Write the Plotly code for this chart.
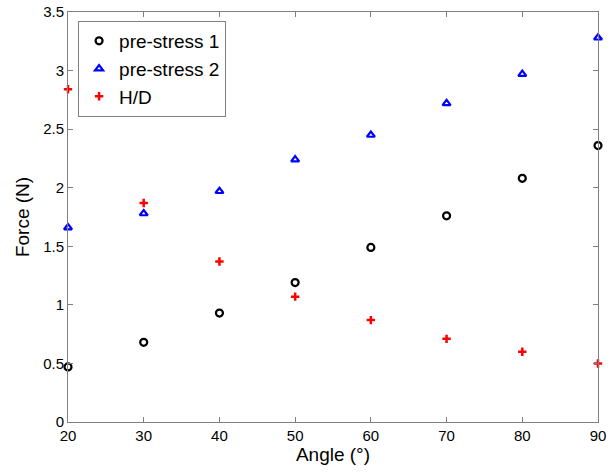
import plotly.graph_objects as go

angles = [20, 30, 40, 50, 60, 70, 80, 90]
prestress1 = [0.47, 0.68, 0.93, 1.19, 1.49, 1.76, 2.08, 2.36]
prestress2 = [1.66, 1.78, 1.97, 2.24, 2.45, 2.72, 2.97, 3.28]
hd = [2.84, 1.87, 1.37, 1.07, 0.87, 0.71, 0.60, 0.50]
x_ticks = [20, 30, 40, 50, 60, 70, 80, 90]
y_ticks = [0, 0.5, 1, 1.5, 2, 2.5, 3, 3.5]
y_ticklabels = ["0", "0.5", "1", "1.5", "2", "2.5", "3", "3.5"]

fig = go.Figure()
fig.add_trace(go.Scatter(x=angles, y=prestress1, mode="markers", name="pre-stress 1",
                         marker=dict(symbol="circle-open", size=7, color="black",
                                     line=dict(width=2.2, color="black")), cliponaxis=False))
fig.add_trace(go.Scatter(x=angles, y=prestress2, mode="markers", name="pre-stress 2",
                         marker=dict(symbol="triangle-up-open", size=7, color="blue",
                                     line=dict(width=2.2, color="blue")), cliponaxis=False))
fig.add_trace(go.Scatter(x=angles, y=hd, mode="markers", name="H/D",
                         marker=dict(symbol="cross-thin-open", size=6, color="red",
                                     line=dict(width=2.5, color="red")), cliponaxis=False))

axis_common = dict(showgrid=False, zeroline=False, showline=True, linecolor="#808080",
                   linewidth=1, mirror="ticks", ticks="inside", ticklen=5,
                   tickcolor="#808080", automargin=False,
                   tickfont=dict(family="Arial", size=15, color="black"))

fig.update_layout(
    width=613, height=473,
    paper_bgcolor="white", plot_bgcolor="white",
    margin=dict(l=68, r=15, t=12, b=51, autoexpand=False),
    font=dict(family="Arial", color="black"),
    xaxis=dict(range=[20, 90], tickvals=x_ticks, title=dict(text="Angle (°)", font=dict(size=19), standoff=4),
               **axis_common),
    yaxis=dict(range=[0, 3.5], tickvals=y_ticks, ticktext=y_ticklabels,
               title=dict(text="Force (N)", font=dict(size=19), standoff=8), **axis_common),
    legend=dict(x=0.019, y=0.978, xanchor="left", yanchor="top", bgcolor="white",
                bordercolor="#808080", borderwidth=1, font=dict(family="Arial", size=19),
                itemwidth=30, tracegroupgap=0),
    showlegend=True,
)

fig.write_html("out.html", config={"displayModeBar": False},
               post_script="document.body.style.margin='0';document.body.style.overflow='hidden';")
